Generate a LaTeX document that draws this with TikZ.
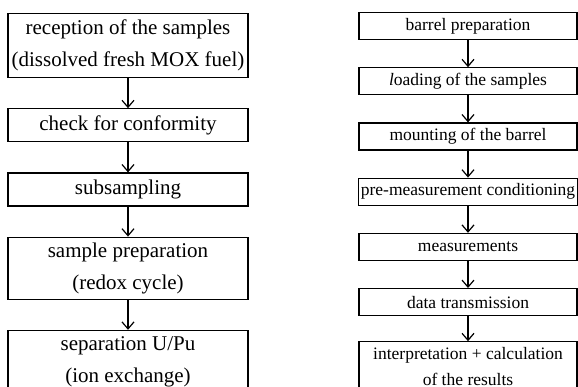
\documentclass[tikz,border=0pt]{standalone}
\usepackage{fontspec}
\setmainfont{Liberation Serif}
\usetikzlibrary{arrows.meta, positioning}

\begin{document}
\begin{tikzpicture}[
    node distance=15pt,
    lstep/.style={draw, line width=0.6pt, align=center, minimum width=120pt,
        minimum height=16.5pt, inner xsep=1pt, inner ysep=2pt,
        font=\fontsize{10.5}{16}\selectfont},
    rstep/.style={lstep, minimum width=109pt, minimum height=13.5pt,
        font=\fontsize{8.75}{13}\selectfont},
    arrow/.style={-{Straight Barb[length=3.5pt,width=6pt]}, line width=0.6pt}
]
\useasboundingbox (0,0) rectangle (289pt,-193pt);
\clip (0,0) rectangle (289pt,-193pt);
% sample handling
\node[lstep, minimum height=32pt, anchor=north] (reception) at (64pt,-6.5pt) {reception of the samples\\(dissolved fresh MOX fuel)};
\node[lstep, below=of reception] (check) {check for conformity};
\node[lstep, below=of check] (subsampling) {subsampling};
\node[lstep, minimum height=31pt, below=of subsampling] (preparation) {sample preparation\\(redox cycle)};
\node[lstep, minimum height=31pt, below=of preparation] (separation) {separation U/Pu\\(ion exchange)};
% measurement chain
\node[rstep, anchor=north] (barrel) at (234pt,-6pt) {barrel preparation};
\node[rstep, below=13.5pt of barrel] (loading) {\textit{l}oading of the samples};
\node[rstep, below=13.5pt of loading] (mounting) {mounting of the barrel};
\node[rstep, below=13.5pt of mounting] (conditioning) {pre-measurement conditioning};
\node[rstep, below=13.5pt of conditioning] (measurements) {measurements};
\node[rstep, below=13.5pt of measurements] (transmission) {data transmission};
\node[rstep, minimum height=25pt, inner ysep=1pt, below=12.5pt of transmission] (interpretation) {interpretation + calculation\\of the results};
\draw[arrow] (reception) -- (check);
\draw[arrow] (check) -- (subsampling);
\draw[arrow] (subsampling) -- (preparation);
\draw[arrow] (preparation) -- (separation);
\draw[arrow] (barrel) -- (loading);
\draw[arrow] (loading) -- (mounting);
\draw[arrow] (mounting) -- (conditioning);
\draw[arrow] (conditioning) -- (measurements);
\draw[arrow] (measurements) -- (transmission);
\draw[arrow] (transmission) -- (interpretation);
\end{tikzpicture}
\end{document}
